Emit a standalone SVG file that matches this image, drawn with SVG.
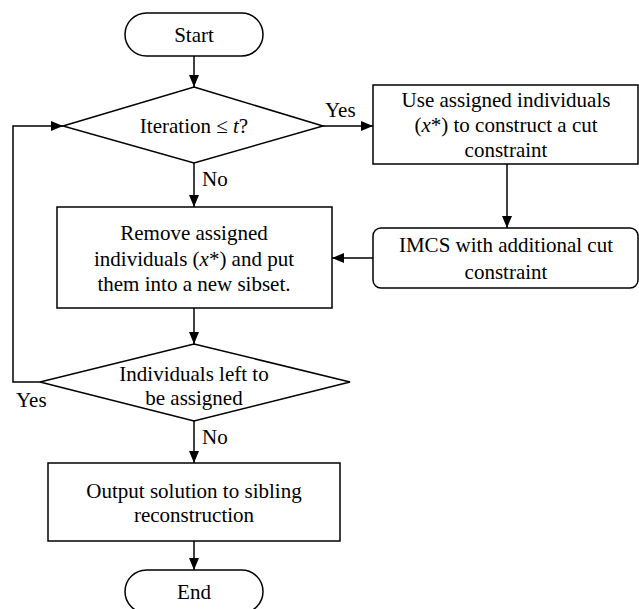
<svg xmlns="http://www.w3.org/2000/svg" width="639" height="609" viewBox="0 0 639 609">
<style>
.s{fill:#fff;stroke:#000;stroke-width:1.5}
.t{font-family:'Liberation Serif','Times New Roman','DejaVu Serif',serif;font-size:21px;fill:#000;text-anchor:middle}
.l{font-family:'Liberation Serif','Times New Roman','DejaVu Serif',serif;font-size:21px;fill:#000}
.c{fill:none;stroke:#000;stroke-width:1.5}
</style>
<defs>
<marker id="a" markerWidth="12" markerHeight="10" refX="12" refY="5" orient="auto" markerUnits="userSpaceOnUse">
<path d="M0,0 L12,5 L0,10 Z" fill="#000"/>
</marker>
</defs>
<g id="connectors">
<line class="c" x1="194" y1="56" x2="194" y2="87" marker-end="url(#a)"/>
<line class="c" x1="323" y1="126" x2="373" y2="126" marker-end="url(#a)"/>
<line class="c" x1="507" y1="164" x2="507" y2="228" marker-end="url(#a)"/>
<line class="c" x1="373" y1="258" x2="332" y2="258" marker-end="url(#a)"/>
<line class="c" x1="194" y1="163" x2="194" y2="207" marker-end="url(#a)"/>
<line class="c" x1="194" y1="308" x2="194" y2="344" marker-end="url(#a)"/>
<polyline class="c" points="40,382 13,382 13,126 63,126" marker-end="url(#a)"/>
<line class="c" x1="194" y1="421" x2="194" y2="463" marker-end="url(#a)"/>
<line class="c" x1="194" y1="541" x2="194" y2="570" marker-end="url(#a)"/>
<text class="l" x="325" y="117">Yes</text>
<text class="l" x="202" y="186">No</text>
<text class="l" x="16" y="407">Yes</text>
<text class="l" x="202" y="444">No</text>
</g>
<g id="start">
<rect class="s" x="125" y="13" width="138" height="43" rx="21.5"/>
<text class="t" x="194" y="42">Start</text>
</g>
<g id="iteration">
<polygon class="s" points="194,87 323,126 194,163 63,126"/>
<text class="t" x="194" y="133">Iteration ≤ <tspan font-style="italic">t</tspan>?</text>
</g>
<g id="use">
<rect class="s" x="373" y="85" width="265" height="79"/>
<text class="t" x="506" y="107">Use assigned individuals</text>
<text class="t" x="506" y="132">(<tspan font-style="italic">x</tspan>*) to construct a cut</text>
<text class="t" x="506" y="157">constraint</text>
</g>
<g id="imcs">
<rect class="s" x="373" y="228" width="265" height="60" rx="8"/>
<text class="t" x="506" y="252">IMCS with additional cut</text>
<text class="t" x="506" y="279">constraint</text>
</g>
<g id="remove">
<rect class="s" x="57" y="207" width="275" height="101"/>
<text class="t" x="194" y="240">Remove assigned</text>
<text class="t" x="194" y="266">individuals (<tspan font-style="italic">x</tspan>*) and put</text>
<text class="t" x="194" y="291">them into a new sibset.</text>
</g>
<g id="left">
<polygon class="s" points="194,344 350,382 194,421 40,382"/>
<text class="t" x="194" y="381">Individuals left to</text>
<text class="t" x="194" y="405">be assigned</text>
</g>
<g id="output">
<rect class="s" x="48" y="463" width="292" height="78"/>
<text class="t" x="194" y="498">Output solution to sibling</text>
<text class="t" x="194" y="522">reconstruction</text>
</g>
<g id="end">
<rect class="s" x="125" y="570" width="138" height="43" rx="21.5"/>
<text class="t" x="194" y="599">End</text>
</g>
</svg>
